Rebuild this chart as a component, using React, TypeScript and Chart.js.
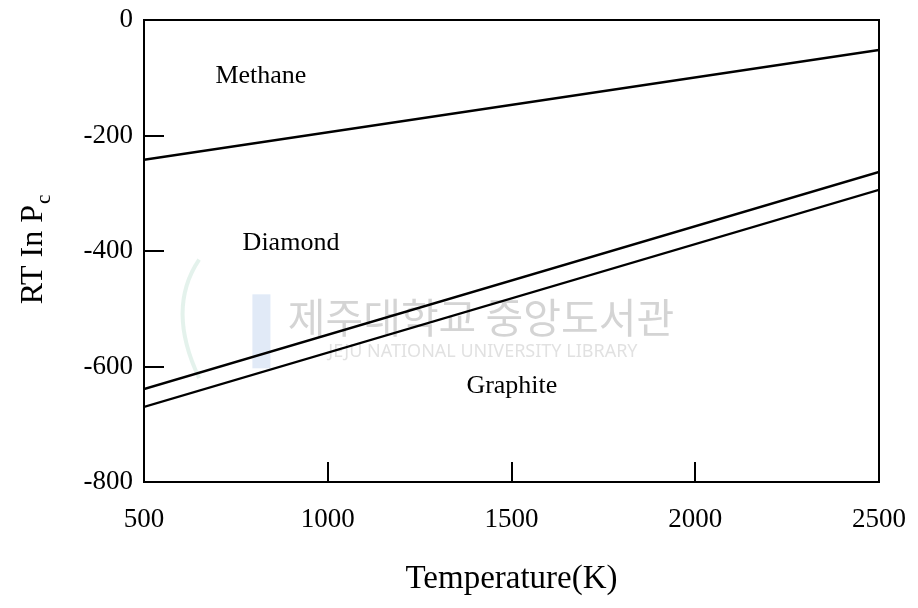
import React, { useEffect, useRef } from "react";
import { Chart, registerables } from "chart.js";

Chart.register(...registerables);

// ---- data ----
const xRange = [500, 2500];
const methane = [-242, -52];
const diamond = [-639, -263];
const graphite = [-670, -294];
const xTickValues = [500, 1000, 1500, 2000, 2500];
const yTickValues = [0, -200, -400, -600, -800];
const labelTexts = ["Methane", "Diamond", "Graphite"];
const labelX = [818, 900, 1501];
const labelY = [-97, -386, -634];
const xTitle = "Temperature(K)";
const yTitleMain = "RT In P";
const yTitleSub = "c";
const watermarkKo = "제주대학교 중앙도서관";
const watermarkEn = "JEJU NATIONAL UNIVERSITY LIBRARY";

const SERIF = '"Liberation Serif", "Times New Roman", serif';

const decorPlugin = {
  id: "decor",
  beforeDatasetsDraw(chart: any) {
    const { ctx } = chart;
    const x = chart.scales.x;
    const y = chart.scales.y;
    ctx.save();
    // faint watermark
    const wx = x.getPixelForValue(1395);
    ctx.textAlign = "center";
    ctx.textBaseline = "middle";
    ctx.fillStyle = "rgba(160,160,160,0.45)";
    ctx.font = '41px "Noto Sans CJK KR"';
    ctx.fillText(watermarkKo, wx + 8, y.getPixelForValue(-515));
    ctx.fillStyle = "rgba(170,170,170,0.35)";
    ctx.font = '18px "Noto Sans"';
    ctx.fillText(watermarkEn, wx + 10, y.getPixelForValue(-575));
    // faint logo
    ctx.fillStyle = "rgba(120,160,220,0.22)";
    ctx.fillRect(x.getPixelForValue(795), y.getPixelForValue(-475), 18, 74);
    ctx.strokeStyle = "rgba(120,190,160,0.2)";
    ctx.lineWidth = 4;
    ctx.beginPath();
    ctx.moveTo(x.getPixelForValue(650), y.getPixelForValue(-620));
    ctx.quadraticCurveTo(x.getPixelForValue(560), y.getPixelForValue(-500), x.getPixelForValue(650), y.getPixelForValue(-415));
    ctx.stroke();
    ctx.restore();
  },
  afterDraw(chart: any) {
    const { ctx, chartArea } = chart;
    const x = chart.scales.x;
    const y = chart.scales.y;
    ctx.save();
    ctx.strokeStyle = "#000";
    ctx.lineWidth = 2;
    ctx.strokeRect(chartArea.left, chartArea.top, chartArea.right - chartArea.left, chartArea.bottom - chartArea.top);
    // inward ticks
    ctx.beginPath();
    xTickValues.forEach((v) => {
      const px = Math.round(x.getPixelForValue(v));
      ctx.moveTo(px, chartArea.bottom);
      ctx.lineTo(px, chartArea.bottom - 20);
    });
    yTickValues.forEach((v) => {
      const py = Math.round(y.getPixelForValue(v));
      ctx.moveTo(chartArea.left, py);
      ctx.lineTo(chartArea.left + 20, py);
    });
    ctx.stroke();
    // series labels
    ctx.fillStyle = "#000";
    ctx.textAlign = "center";
    ctx.textBaseline = "middle";
    ctx.font = "26px " + SERIF;
    labelTexts.forEach((t, i) => {
      ctx.fillText(t, x.getPixelForValue(labelX[i]), y.getPixelForValue(labelY[i]));
    });
    // x title
    ctx.font = "33px " + SERIF;
    ctx.textBaseline = "alphabetic";
    ctx.fillText(xTitle, (chartArea.left + chartArea.right) / 2, 588);
    // y title rotated with subscript
    ctx.font = "32px " + SERIF;
    const mainW = ctx.measureText(yTitleMain).width;
    ctx.font = "21px " + SERIF;
    const subW = ctx.measureText(yTitleSub).width;
    const total = mainW + subW;
    ctx.translate(42, 250);
    ctx.rotate(-Math.PI / 2);
    ctx.textAlign = "left";
    ctx.font = "32px " + SERIF;
    ctx.fillText(yTitleMain, -total / 2, 0);
    ctx.font = "21px " + SERIF;
    ctx.fillText(yTitleSub, -total / 2 + mainW + 1, 8);
    ctx.restore();
  },
};

export default function App() {
  const ref = useRef<HTMLCanvasElement>(null);
  useEffect(() => {
    if (!ref.current) return;
    const mk = (d: number[]) => xRange.map((xv, i) => ({ x: xv, y: d[i] }));
    const ds = (label: string, d: number[]) => ({
      label,
      data: mk(d),
      showLine: true,
      borderColor: "#000",
      borderWidth: 2.4,
      pointRadius: 0,
      fill: false,
    });
    const chart = new Chart(ref.current, {
      type: "scatter",
      data: {
        datasets: [ds("Methane", methane), ds("Diamond", diamond), ds("Graphite", graphite)],
      },
      options: {
        responsive: false,
        animation: false,
        layout: { padding: { left: 0, right: 39, top: 20, bottom: 0 } },
        plugins: { legend: { display: false }, tooltip: { enabled: false } },
        scales: {
          x: {
            type: "linear",
            min: 500,
            max: 2500,
            afterFit: (s: any) => {
              s.height = 126;
              s.paddingLeft = 0;
              s.paddingRight = 0;
            },
            afterBuildTicks: (s: any) => {
              s.ticks = xTickValues.map((v) => ({ value: v }));
            },
            ticks: {
              color: "#000",
              font: { family: SERIF, size: 27 },
              padding: 22,
              maxRotation: 0,
              callback: (v: any) => String(v),
            },
            grid: { display: false, drawTicks: false },
            border: { display: false },
          },
          y: {
            type: "linear",
            min: -800,
            max: 0,
            afterFit: (s: any) => {
              s.width = 144;
              s.paddingTop = 0;
              s.paddingBottom = 0;
            },
            afterBuildTicks: (s: any) => {
              s.ticks = yTickValues.map((v) => ({ value: v }));
            },
            ticks: {
              color: "#000",
              font: { family: SERIF, size: 27 },
              padding: 11,
              callback: (v: any) => String(v),
            },
            grid: { display: false, drawTicks: false },
            border: { display: false },
          },
        },
      },
      plugins: [decorPlugin],
    } as any);
    return () => chart.destroy();
  }, []);
  return (
    <div style={{ position: "fixed", left: 0, top: 0, width: 918, height: 608, background: "#fff" }}>
      <canvas ref={ref} width={918} height={608} style={{ display: "block" }} />
    </div>
  );
}
